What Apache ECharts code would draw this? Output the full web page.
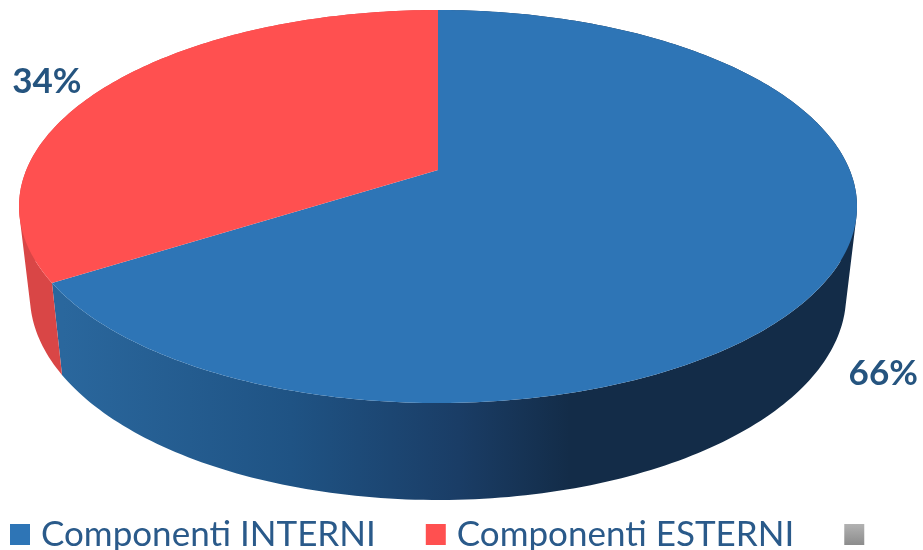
<!DOCTYPE html>
<html>
<head>
<meta charset="utf-8">
<style>html,body{margin:0;background:#fff}#chart{width:923px;height:550px}</style>
<script src="https://cdn.jsdelivr.net/npm/echarts@6/dist/echarts.min.js"></script>
</head>
<body>
<div id="chart"></div>
<script>
var names = ['Componenti INTERNI', 'Componenti ESTERNI', ' '];
var values = [66, 34, 0];
var topColors = ['#2e75b6', '#ff5050', '#a5a5a5'];
var wallColors = ['#2a669f', '#d94646', '#8a8a8a'];

// perspective of the tilted disc: persp is the foreshortening, b is where the centre lands
var cx = 438;
var persp = 0.1858;
var topRim = { k: 411.7, a: -158.14, b: 170 };
var bottomRim = { k: 401, a: -149.7, b: 257.4 };
var labelOffset = [[49, 103], [-60, -4]];

var total = values.reduce(function (s, v) { return s + v; }, 0);
var chart = echarts.init(document.getElementById('chart'));

function project(rim, frac) {
  var t = frac * Math.PI * 2;
  var u = Math.sin(t), v = Math.cos(t);
  var d = persp * v + 1;
  return [cx + rim.k * u / d, (rim.a * v + rim.b) / d];
}

function arc(rim, from, to) {
  var pts = [];
  var n = Math.max(2, Math.ceil((to - from) * 360));
  for (var i = 0; i <= n; i++) pts.push(project(rim, from + (to - from) * i / n));
  return pts;
}

function startOf(idx) {
  var s = 0;
  for (var i = 0; i < idx; i++) s += values[i];
  return s / total;
}

function area(q) {
  var s = 0;
  for (var i = 0; i < q.length; i++) {
    var p = q[i], n = q[(i + 1) % q.length];
    s += p[0] * n[1] - n[0] * p[1];
  }
  return s;
}

// wall = one quad per degree in a single path, same winding so they fill as one shape
function renderWall(idx) {
  return function (params, api) {
    var from = startOf(idx), to = from + api.value(0) / total;
    if (to <= from) return;
    var fill = idx === 0
      ? new echarts.graphic.LinearGradient(63, 0, 570, 0, [
          { offset: 0, color: '#2a679d' },
          { offset: 0.45, color: '#1f5384' },
          { offset: 0.78, color: '#1a3d66' },
          { offset: 1, color: '#132c48' }
        ], true)
      : wallColors[idx];
    var a = arc(topRim, from, to), b = arc(bottomRim, from, to);
    var d = '';
    for (var i = 0; i < a.length - 1; i++) {
      var q = [a[i], a[i + 1], b[i + 1], b[i]];
      if (area(q) < 0) q.reverse();
      d += 'M' + q.map(function (p) { return p[0].toFixed(2) + ' ' + p[1].toFixed(2); }).join('L') + 'Z';
    }
    return { type: 'path', shape: { pathData: d }, style: { fill: fill } };
  };
}

function renderTop(idx) {
  return function (params, api) {
    var val = api.value(0);
    var from = startOf(idx), to = from + val / total;
    if (to <= from) return;
    var pts = [[cx, topRim.b]].concat(arc(topRim, from, to));
    var mid = project(topRim, (from + to) / 2);
    return {
      type: 'group',
      children: [
        { type: 'polygon', shape: { points: pts }, style: { fill: topColors[idx] } },
        {
          type: 'text',
          z2: 10,
          style: {
            x: mid[0] + labelOffset[idx][0],
            y: mid[1] + labelOffset[idx][1],
            text: val + '%',
            fill: '#25547f',
            font: 'bold 35px Lato',
            align: 'center',
            verticalAlign: 'middle'
          }
        }
      ]
    };
  };
}

var series = [];
names.forEach(function (name, i) {
  series.push({ type: 'custom', name: name, coordinateSystem: 'none', z: 1, silent: true, data: [values[i]], renderItem: renderWall(i) });
  series.push({ type: 'custom', name: name, coordinateSystem: 'none', z: 2, silent: true, data: [values[i]], renderItem: renderTop(i) });
});

var greySwatch = new echarts.graphic.LinearGradient(0, 0, 0, 1, [
  { offset: 0, color: '#b2b2b2' },
  { offset: 1, color: '#8c8c8c' }
]);

chart.setOption({
  backgroundColor: '#fff',
  animation: false,
  legend: {
    left: 5,
    top: 512,
    itemWidth: 20,
    itemHeight: 21,
    itemGap: 50,
    selectedMode: false,
    textStyle: { fontFamily: 'Lato', fontSize: 35, color: '#2a5a8a', padding: [0, 0, 0, 6] },
    data: names.map(function (n, i) {
      return { name: n, icon: 'rect', itemStyle: { color: i === 2 ? greySwatch : topColors[i] } };
    })
  },
  series: series
});
</script>
</body>
</html>
